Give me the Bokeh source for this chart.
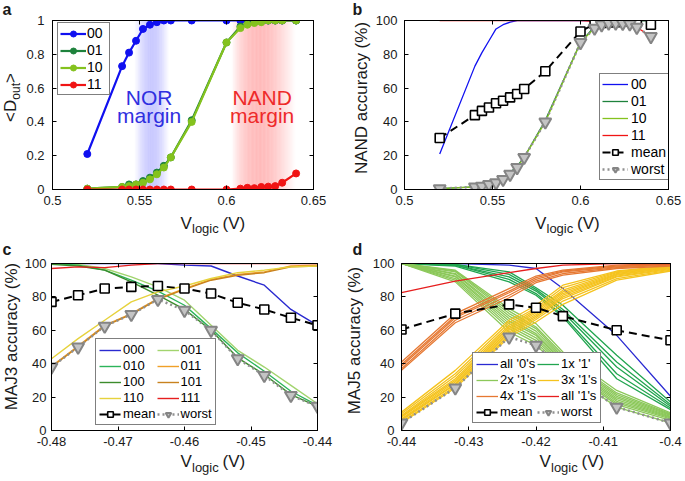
import math
from bokeh.plotting import figure
from bokeh.models import Range1d, FixedTicker, LinearAxis, Label, Legend, LegendItem
from bokeh.layouts import column, row
from bokeh.embed import file_html
from bokeh.resources import INLINE

# ---------------- data: panel a (mean output) ----------------
v_ab = [0.52, 0.54, 0.544, 0.548, 0.552, 0.556, 0.56, 0.564, 0.568, 0.58, 0.6,
        0.608, 0.612, 0.616, 0.62, 0.624, 0.628, 0.632, 0.64]
dout_00 = [0.21, 0.73, 0.81, 0.88, 0.95, 0.975, 0.99, 1, 1, 1, 1, 1, 1, 1, 1, 1, 1, 1, 1]
dout_01 = [0.005, 0.015, 0.03, 0.03, 0.05, 0.07, 0.10, 0.14, 0.19, 0.41, 0.87,
           0.965, 0.98, 0.99, 0.995, 1, 1, 1, 1]
dout_10 = [0.005, 0.015, 0.02, 0.03, 0.04, 0.06, 0.09, 0.13, 0.19, 0.40, 0.87,
           0.955, 0.975, 0.985, 0.99, 1, 1, 1, 1]
dout_11 = [0, 0, 0, 0, 0, 0, 0, 0, 0, 0, 0, 0.005, 0.01, 0.008, 0.015, 0.017, 0.02, 0.04, 0.095]
nor_band = [0.547, 0.567]
nand_band = [0.603, 0.64]

# ---------------- data: panel b (NAND accuracy, %) ----------------
nand_00 = [21, 73, 81, 88, 95, 97.5, 99, 100, 100, 100, 100, 100, 100, 100, 100, 100, 100, 100, 100]
nand_01 = [0.5, 1.5, 3, 3, 5, 7, 10, 14, 19, 41, 87, 96.5, 98, 99, 99.5, 100, 100, 100, 100]
nand_10 = [0.5, 1.5, 2, 3, 4, 6, 9, 13, 19, 40, 87, 95.5, 97.5, 98.5, 99, 100, 100, 100, 100]
nand_11 = [100, 100, 100, 100, 100, 100, 100, 100, 100, 100, 100, 99.5, 99, 99.2, 98.5, 98.3, 98, 96, 90.5]
nand_mean = [30.5, 44, 46.5, 48.5, 51, 52.5, 54.5, 56.5, 59.5, 70, 93.5, 98, 98.5, 99, 99, 99.5, 99.5, 99, 97.5]
nand_worst = [0.5, 1.5, 2, 3, 4, 6, 9, 13, 19, 40, 87, 95.5, 97.5, 98.5, 98.5, 98.3, 98, 96, 90.5]

# ---------------- data: panel c (MAJ3 accuracy, %) ----------------
v_c = [-0.48, -0.476, -0.472, -0.468, -0.464, -0.46, -0.456, -0.452, -0.448, -0.444, -0.44]
maj3 = {
    "000": [100, 100, 100, 100, 100, 99, 98.5, 92.5, 87, 72.5, 63],
    "001": [100, 99.5, 97, 92, 86, 78, 63, 48, 38, 27, 16],
    "010": [100, 99, 96, 90, 83.5, 75, 61, 46.5, 35.5, 23.5, 15],
    "011": [38.5, 50.5, 63, 70, 79, 85, 90.5, 93.5, 95, 98.5, 99],
    "100": [99.5, 98.5, 96, 89, 81, 72.5, 60, 43.5, 33.5, 21.5, 14.5],
    "101": [38, 50, 62.5, 69.5, 78.5, 84.5, 90, 93, 94.5, 98, 98.5],
    "110": [43, 55, 66, 77, 83, 86.5, 91, 94.5, 96, 98, 98.5],
    "111": [97, 98, 97.5, 99, 100, 100, 100, 100, 100, 100, 100],
}
maj3_mean = [77, 81, 85, 86, 86.5, 85, 82, 76.5, 72.5, 67.5, 63]
maj3_worst = [38, 50, 62.5, 69.5, 78.5, 72, 60, 43, 33, 21, 14.5]

# ---------------- data: panel d (MAJ5 accuracy, %) ----------------
v_d = [-0.44, -0.432, -0.424, -0.42, -0.416, -0.408, -0.40]
maj5_all0 = [[100, 100, 99, 97, 85, 57, 20.5]]
maj5_1x = [
    [100, 99.5, 95, 85.5, 75, 45, 17],
    [100, 99.5, 93.5, 84.5, 72.5, 41, 15.5],
    [100, 99, 92, 83.5, 71, 38, 14.5],
    [100, 99, 90.5, 82, 69, 34, 13.5],
    [100, 98.5, 89, 81, 68, 31, 12.5],
]
maj5_2x = [
    [100, 96, 73, 64, 47, 24, 10.5],
    [100, 95.5, 71.5, 62, 45.5, 22.5, 10],
    [100, 95, 70, 61, 44, 21.5, 9.5],
    [100, 94, 68.5, 59.5, 43, 20.5, 9],
    [100, 93.5, 67, 58, 42, 19.5, 8.5],
    [100, 92.5, 65.5, 57, 41, 18.5, 8],
    [100, 92, 64, 55.5, 40, 17.5, 7.5],
    [100, 91, 62.5, 54, 39, 16.5, 7],
    [100, 90, 61, 52.5, 38, 15.5, 6],
    [100, 89, 59, 51, 36.5, 14, 4.5],
]
maj5_3x = [
    [11, 36, 66, 75, 87, 95.5, 98.5],
    [10, 34, 64.5, 73.5, 85.5, 95, 98.5],
    [9, 32.5, 63, 72.5, 84, 94.5, 98],
    [8.5, 31, 62, 71.5, 83, 94, 98],
    [8, 30, 61, 70.5, 82, 93.5, 97.5],
    [7, 29, 60, 69.5, 81, 93, 97.5],
    [6.5, 28, 59, 68.5, 80, 92.5, 97],
    [6, 27.5, 58, 67.5, 79, 92, 96.5],
    [5, 26.5, 57, 66.5, 77.5, 91, 96],
    [4.5, 25.5, 56, 65, 75.5, 90, 95.5],
]
maj5_4x = [
    [41, 70, 85, 92.5, 96, 99, 100],
    [39.5, 68.5, 83.5, 91.5, 95.5, 98.5, 99.5],
    [38.5, 67.5, 82.5, 90.5, 95, 98, 99.5],
    [37, 66, 81, 89.5, 94, 97.5, 99],
    [36, 64.5, 79.5, 88.5, 93, 97, 98.5],
]
maj5_all1 = [[82.5, 89.5, 94.5, 97, 99, 100, 100]]
maj5_mean = [60.5, 70, 75.5, 73.5, 68.5, 60, 54]
maj5_worst = [4.5, 25.5, 56, 51, 36.5, 14, 4.5]

# ---------------- ticks ----------------
xt_ab = [0.5, 0.55, 0.6, 0.65]
xl_ab = ["0.5", "0.55", "0.6", "0.65"]
yt_a = [0, 0.2, 0.4, 0.6, 0.8, 1]
yl_a = ["0", "0.2", "0.4", "0.6", "0.8", "1"]
yt_pct = [0, 20, 40, 60, 80, 100]
yl_pct = ["0", "20", "40", "60", "80", "100"]
xt_c = [-0.48, -0.47, -0.46, -0.45, -0.44]
xl_c = ["-0.48", "-0.47", "-0.46", "-0.45", "-0.44"]
xt_d = [-0.44, -0.43, -0.42, -0.41, -0.40]
xl_d = ["-0.44", "-0.43", "-0.42", "-0.41", "-0.4"]

# ---------------- styling ----------------
FONT = "Liberation Sans"
TXT = "#1a1a1a"
BLUE = "#1010f0"
G01 = "#1e823c"
G10 = "#84c21e"
RED = "#f01414"
C3 = {"000": "#2a2ad0", "001": "#a2d46e", "010": "#2cb45a", "011": "#f0a028",
      "100": "#3c8c2c", "101": "#c8821e", "110": "#e6d23c", "111": "#e61e1e"}
C5 = ["#2a2ad2", "#22a550", "#8cc85a", "#f5c31e", "#e67832", "#e61e1e"]


def make_fig(w, h, L, R, T, B, xr, yr, xt, xl, yt, yl, ystand=7):
    p = figure(width=w, height=h, x_range=Range1d(*xr), y_range=Range1d(*yr),
               output_backend="svg", toolbar_location=None,
               min_border_left=L, min_border_right=R, min_border_top=T, min_border_bottom=B)
    p.xgrid.visible = False
    p.ygrid.visible = False
    p.outline_line_color = "black"
    p.background_fill_color = "white"
    p.border_fill_color = "white"
    for ax, t, l, so in ((p.xaxis[0], xt, xl, 6), (p.yaxis[0], yt, yl, ystand)):
        ax.ticker = FixedTicker(ticks=t)
        ax.major_label_overrides = dict(zip(t, l))
        ax.major_tick_in = 4
        ax.major_tick_out = 0
        ax.minor_tick_line_color = None
        ax.axis_line_color = "black"
        ax.major_tick_line_color = "black"
        ax.major_label_text_font = FONT
        ax.major_label_text_font_size = "13px"
        ax.major_label_text_color = TXT
        ax.major_label_standoff = so
    for t, side in ((yt, "right"), (xt, "above")):
        ax = LinearAxis(ticker=FixedTicker(ticks=t), major_label_text_font_size="1px",
                        major_label_text_color=None, major_label_overrides={v: "" for v in t},
                        major_label_standoff=0, major_tick_in=4, major_tick_out=0,
                        minor_tick_line_color=None, axis_line_color="black",
                        major_tick_line_color="black")
        p.add_layout(ax, side)
    return p


def strip(w, h):
    s = figure(width=w, height=h, x_range=Range1d(0, w), y_range=Range1d(0, h),
               output_backend="svg", toolbar_location=None, min_border=0,
               x_axis_type=None, y_axis_type=None)
    s.outline_line_color = None
    s.background_fill_color = "white"
    s.border_fill_color = "white"
    return s


def lab(p, x, y, text, size, color=TXT, angle=0, align="left", bold=False, base="bottom"):
    p.add_layout(Label(x=x, y=y, x_units="screen", y_units="screen", text=text,
                       text_font=FONT, text_font_size=size, text_color=color,
                       angle=angle, text_align=align, text_baseline=base,
                       text_font_style="bold" if bold else "normal"))


def xlabel(s, cx, bottom):
    # bottom = bottom of the "V" text box; the subscript sits lower
    x0 = cx - 32.5
    lab(s, x0, bottom, "V", "17px")
    lab(s, x0 + 11.5, bottom - 3.6, "logic", "13px")
    lab(s, x0 + 42, bottom, "(V)", "17px")


def leg(p, items, loc, ncols=1, gw=24, lh=14, pad=3, size="13px", standoff=2):
    lg = Legend(items=items, location=loc, border_line_color="black", border_line_width=1,
                background_fill_color="white", background_fill_alpha=1,
                label_text_font=FONT, label_text_font_size=size, label_text_color="black",
                glyph_width=gw, glyph_height=lh, label_height=lh, spacing=1,
                padding=pad, label_standoff=standoff, margin=0)
    if ncols > 1:
        lg.orientation = "horizontal"
        lg.ncols = ncols
    p.add_layout(lg)


def band(p, rng, color, peak, skew=1.0, n=48):
    x0, x1 = rng
    lefts, rights, alphas = [], [], []
    for i in range(n):
        t = (i + 0.5) / n
        lefts.append(x0 + (x1 - x0) * i / n)
        rights.append(x0 + (x1 - x0) * (i + 1) / n)
        alphas.append(peak * math.sin(math.pi * t ** skew) ** 1.1)
    p.quad(left=lefts, right=rights, bottom=0, top=1, fill_color=color,
           fill_alpha=alphas, line_color=None)


def mean_worst(p, xs, mean, worst):
    rm1 = p.line(xs, mean, line_color="black", line_width=2, line_dash="8 5")
    rm2 = p.scatter(xs, mean, marker="square", size=9, fill_color="white",
                    line_color="black", line_width=1.6)
    rw1 = p.line(xs, worst, line_color="#909090", line_width=2.5, line_dash="2 3")
    rw2 = p.scatter(xs, worst, marker="inverted_triangle", size=12, fill_color="#c4c4c4",
                    line_color="#858585", line_width=2)
    return [LegendItem(label="mean", renderers=[rm1, rm2]),
            LegendItem(label="worst", renderers=[rw1, rw2])]


PI2 = math.pi / 2

# ================= panel a (x 0..340, y 0..240) =================
pa = make_fig(318, 213, 30, 27, 20, 24, (0.5, 0.65), (0, 1), xt_ab, xl_ab, yt_a, yl_a, ystand=8)
band(pa, nor_band, "#5a5aff", 0.34)
band(pa, nand_band, "#ff4a4a", 0.38, skew=0.8)
items = []
for name, ys, col in (("00", dout_00, BLUE), ("01", dout_01, G01), ("10", dout_10, G10), ("11", dout_11, RED)):
    r1 = pa.line(v_ab, ys, line_color=col, line_width=2.2)
    r2 = pa.scatter(v_ab, ys, marker="circle", size=7, fill_color=col, line_color=col)
    items.append(LegendItem(label=name, renderers=[r1, r2]))
leg(pa, items, (5, 94), gw=26, lh=15, pad=2, size="14px", standoff=1)
for txt, xx, yy, col in (("NOR", 0.5555, 0.545, "#2f2fe0"), ("margin", 0.5555, 0.435, "#2f2fe0"),
                         ("NAND", 0.6205, 0.545, "#ee2a2a"), ("margin", 0.6205, 0.435, "#ee2a2a")):
    pa.add_layout(Label(x=xx, y=yy, text=txt, text_font=FONT, text_font_size="21px",
                        text_color=col, text_align="center", text_baseline="alphabetic"))
la = strip(22, 240)
lab(la, 2, 240, "a", "16px", bold=True, base="top")
lab(la, 9.5, 118.6, "<D", "17px", angle=PI2, base="middle")
lab(la, 15.2, 140.8, "out", "12px", angle=PI2, base="middle")
lab(la, 9.5, 157.5, ">", "17px", angle=PI2, base="middle")
ba = strip(318, 27)
xlabel(ba, 160.5, 7.9)
panel_a = row(la, column(pa, ba))

# ================= panel b (x 340..685, y 0..240) =================
pb = make_fig(313, 213, 30, 17, 20, 24, (0.5, 0.65), (0, 100), xt_ab, xl_ab, yt_pct, yl_pct)
items = []
for name, ys, col in (("00", nand_00, BLUE), ("01", nand_01, G01), ("10", nand_10, G10), ("11", nand_11, RED)):
    r = pb.line(v_ab, ys, line_color=col, line_width=1.3)
    items.append(LegendItem(label=name, renderers=[r]))
items += mean_worst(pb, v_ab, nand_mean, nand_worst)
leg(pb, items, (195, 9), gw=26, lh=14, pad=2, size="14px", standoff=3)
lb = strip(32, 240)
lab(lb, 12, 240, "b", "16px", bold=True, base="top")
lab(lb, 21, 142.5, "NAND accuracy (%)", "17px", angle=PI2, align="center", base="middle")
bb = strip(313, 27)
xlabel(bb, 163, 7.9)
panel_b = row(lb, column(pb, bb))

# ================= panel c (x 0..340, y 240..481) =================
pc = make_fig(319, 211, 27, 23, 23, 21, (-0.48, -0.44), (0, 100), xt_c, xl_c, yt_pct, yl_pct, ystand=5)
rend = {}
for name in ("000", "001", "010", "011", "100", "101", "110", "111"):
    rend[name] = pc.line(v_c, maj3[name], line_color=C3[name], line_width=1.4)
items = [LegendItem(label=n, renderers=[rend[n]]) for n in ("000", "001", "010", "011", "100", "101", "110", "111")]
items += mean_worst(pc, v_c, maj3_mean, maj3_worst)
leg(pc, items, (44, 5), ncols=2, gw=22, lh=14, pad=3, size="13px", standoff=2)
lc = strip(21, 241)
lab(lc, 2, 241, "c", "16px", bold=True, base="top")
lab(lc, 11, 145, "MAJ3 accuracy (%)", "17px", angle=PI2, align="center", base="middle")
bc = strip(319, 30)
xlabel(bc, 161.5, 10.4)
panel_c = row(lc, column(pc, bc))

# ================= panel d (x 340..685, y 240..481) =================
pd_ = make_fig(320, 211, 36, 15, 23, 21, (-0.44, -0.40), (0, 100), xt_d, xl_d, yt_pct, yl_pct)
groups = [("all '0's", maj5_all0), ("1x '1'", maj5_1x), ("2x '1's", maj5_2x),
          ("3x '1's", maj5_3x), ("4x '1's", maj5_4x), ("all '1's", maj5_all1)]
items = []
for (name, lines), col in zip(groups, C5):
    first = None
    for ys in lines:
        r = pd_.line(v_d, ys, line_color=col, line_width=1.3)
        if first is None:
            first = r
    items.append(LegendItem(label=name, renderers=[first]))
items += mean_worst(pd_, v_d, maj5_mean, maj5_worst)
leg(pd_, items, (71, 7), ncols=2, gw=22, lh=14, pad=3, size="13px", standoff=2)
ld = strip(25, 241)
lab(ld, 12, 241, "d", "16px", bold=True, base="top")
lab(ld, 14, 141, "MAJ5 accuracy (%)", "17px", angle=PI2, align="center", base="middle")
bd = strip(320, 30)
xlabel(bd, 170.5, 10.4)
panel_d = row(ld, column(pd_, bd))

layout = column(row(panel_a, panel_b), row(panel_c, panel_d))
open("out.html", "w").write(file_html(layout, INLINE))
